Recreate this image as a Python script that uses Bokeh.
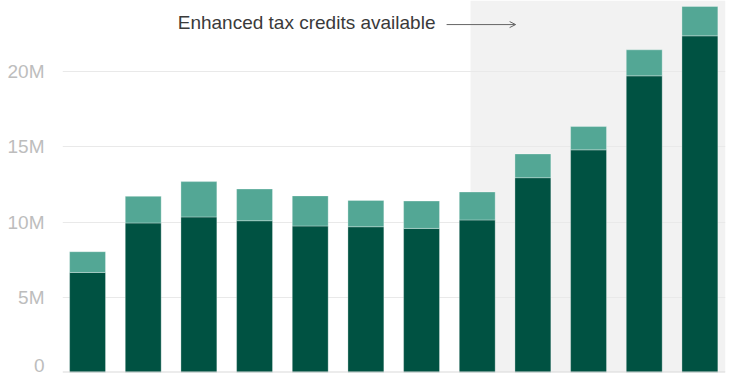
from bokeh.plotting import figure
from bokeh.models import (ColumnDataSource, Range1d, FixedTicker, BoxAnnotation,
                          Label, Arrow, OpenHead, Span)
from bokeh.embed import file_html
from bokeh.resources import INLINE

# ---- data (millions) ----
years = [2014, 2015, 2016, 2017, 2018, 2019, 2020, 2021, 2022, 2023, 2024, 2025]
dark_part = [6.65, 9.94, 10.34, 10.09, 9.74, 9.69, 9.58, 10.14, 12.95, 14.80, 19.72, 22.38]
light_part = [1.38, 1.77, 2.35, 2.11, 2.00, 1.75, 1.82, 1.86, 1.58, 1.55, 1.73, 1.95]
y_ticks = [0, 5, 10, 15, 20, 25]
y_tick_labels = ["0", "5M", "10M", "15M", "20M", "25M"]
shade_start = 2020.88  # enhanced credits begin partway through 2021 enrollment year
annotation_text = "Enhanced tax credits available"

DARK = "#005242"
LIGHT = "#53a795"
FONT = "Liberation Sans"

source = ColumnDataSource(dict(year=years, dark=dark_part, light=light_part))

p = figure(width=750, height=375, output_backend="svg", toolbar_location=None,
           x_range=Range1d(2013.55, 2025.46), y_range=Range1d(0, 24.73),
           x_axis_location=None, min_border_left=62, min_border_right=25,
           min_border_top=0, min_border_bottom=3)
p.outline_line_color = None
p.background_fill_color = "white"
p.border_fill_color = "white"

shade = BoxAnnotation(left=shade_start, fill_color="#f2f2f2", fill_alpha=1.0,
                      line_color=None, level="image")
p.add_layout(shade)

p.xgrid.grid_line_color = None
p.ygrid.grid_line_color = "#e9e9e9"
p.ygrid.grid_line_width = 1

yax = p.yaxis[0]
yax.ticker = FixedTicker(ticks=y_ticks)
yax.major_label_overrides = {t: lab for t, lab in zip(y_ticks, y_tick_labels)}
yax.axis_line_color = None
yax.major_tick_line_color = None
yax.minor_tick_line_color = None
yax.major_tick_out = 0
yax.major_label_standoff = 18
yax.major_label_text_color = "#bdbdbd"
yax.major_label_text_font = FONT
yax.major_label_text_font_size = "19px"
p.ygrid.ticker = FixedTicker(ticks=y_ticks)

p.vbar_stack(["dark", "light"], x="year", width=0.645, color=[DARK, LIGHT],
             line_color="white", line_alpha=0.3, line_width=1, source=source)

base = Span(location=0, dimension="width", line_color="#dadada", line_width=2)
p.add_layout(base)

lab = Label(x=2015.62, y=23.25, text=annotation_text, text_font=FONT,
            text_font_size="19px", text_color="#3a3a3a", text_baseline="alphabetic")
p.add_layout(lab)

arr = Arrow(end=OpenHead(size=6, line_color="#666666", line_width=1),
            x_start=2020.45, x_end=2021.69, y_start=23.13, y_end=23.13,
            line_color="#666666", line_width=1)
p.add_layout(arr)

open("out.html", "w").write(file_html(p, INLINE))
